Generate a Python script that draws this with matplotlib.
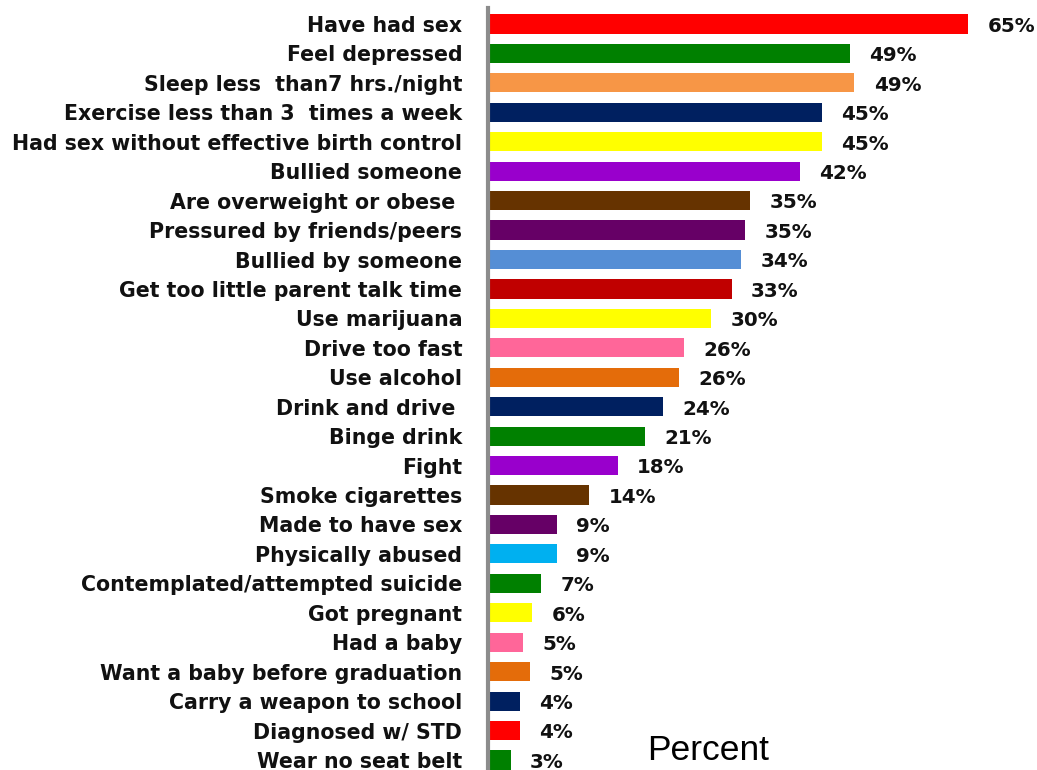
import matplotlib
matplotlib.use("Agg")
from matplotlib import pyplot as plt

# categories, top to bottom
categories = [
    "Have had sex", "Feel depressed", "Sleep less  than7 hrs./night",
    "Exercise less than 3  times a week", "Had sex without effective birth control",
    "Bullied someone", "Are overweight or obese ", "Pressured by friends/peers",
    "Bullied by someone", "Get too little parent talk time", "Use marijuana",
    "Drive too fast", "Use alcohol", "Drink and drive ", "Binge drink", "Fight",
    "Smoke cigarettes", "Made to have sex", "Physically abused",
    "Contemplated/attempted suicide", "Got pregnant", "Had a baby",
    "Want a baby before graduation", "Carry a weapon to school",
    "Diagnosed w/ STD", "Wear no seat belt",
]
# bar lengths as drawn (percent)
values = [65.0, 49.0, 49.6, 45.2, 45.2, 42.2, 35.5, 34.8, 34.3, 33.0, 30.2,
          26.5, 25.9, 23.7, 21.3, 17.6, 13.7, 9.3, 9.3, 7.2, 6.0, 4.7, 5.7,
          4.3, 4.3, 3.1]
value_labels = ["65%", "49%", "49%", "45%", "45%", "42%", "35%", "35%", "34%",
                "33%", "30%", "26%", "26%", "24%", "21%", "18%", "14%", "9%",
                "9%", "7%", "6%", "5%", "5%", "4%", "4%", "3%"]
colors = ["#FF0000", "#008000", "#F79646", "#002060", "#FFFF00", "#9900CC",
          "#663300", "#660066", "#558ED5", "#C00000", "#FFFF00", "#FF6699",
          "#E46C0A", "#002060", "#008000", "#9900CC", "#663300", "#660066",
          "#00B0F0", "#008000", "#FFFF00", "#FF6699", "#E46C0A", "#002060",
          "#FF0000", "#008000"]

plt.rcParams['font.family'] = ['DejaVu Sans']

fig = plt.figure(figsize=(10.37, 7.70), dpi=100)
ax = fig.add_axes([488 / 1037, 0, 1 - 488 / 1037, 1 - 8 / 770])

pos = list(range(len(categories)))
ax.barh(pos, values, height=0.65, color=colors)
ax.set_ylim(len(categories) - 1 + 0.34, -0.543)
ax.set_xlim(0, 74.3)

for p, v, lab in zip(pos, values, value_labels):
    ax.text(v + 2.6, p + 0.08, lab, va="center", ha="left", fontsize=14.3,
            fontweight="bold", color="#111111")

ax.set_yticks(pos)
ax.set_yticklabels(categories, fontsize=14.8, fontweight="bold", color="#111111")
ax.tick_params(axis="y", length=0, pad=18.5)
ax.set_xticks([])

for s in ["top", "right", "bottom"]:
    ax.spines[s].set_visible(False)
ax.spines["left"].set_color("#8C8C8C")
ax.spines["left"].set_linewidth(3)

fig.text(708 / 1037, 1 - 751 / 770, "Percent", ha="center", va="center",
         fontsize=25.5, family=["Liberation Sans Narrow", "Liberation Sans"])

fig.savefig("out.png", dpi=100)
